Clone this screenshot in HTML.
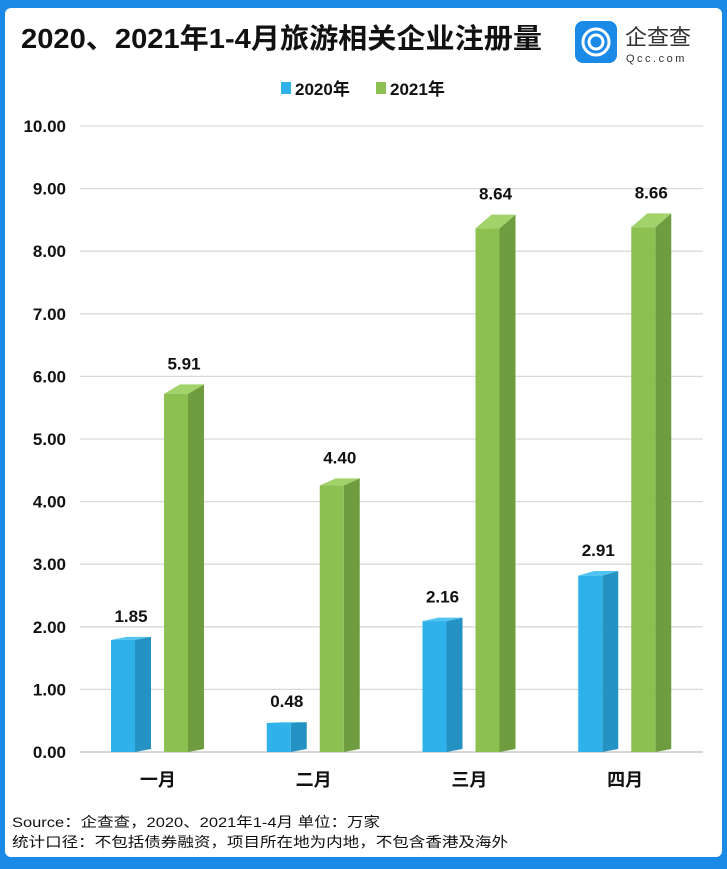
<!DOCTYPE html>
<html><head><meta charset="utf-8">
<style>
body{margin:0;width:727px;height:869px;background:#1a8ae6;overflow:hidden;font-family:"Liberation Sans","Noto Sans CJK SC",sans-serif;}
#card{position:absolute;left:5px;top:8px;width:717px;height:849px;background:#fff;border-radius:6px;}
</style></head><body>
<div id="card"></div>
<svg id="chart" width="727" height="869" style="position:absolute;left:0;top:0">
<text x="21" y="48" font-size="28" font-weight="bold" fill="#111" textLength="521" lengthAdjust="spacingAndGlyphs" font-family="Liberation Sans,Noto Sans CJK SC,sans-serif">2020、2021年1-4月旅游相关企业注册量</text>
<g>
<rect x="575" y="21" width="42" height="42" rx="8" fill="#1a8ae6"/>
<circle cx="596" cy="42" r="13" fill="none" stroke="#fff" stroke-width="3"/>
<circle cx="596" cy="42" r="7" fill="none" stroke="#fff" stroke-width="3"/>
<text x="625" y="45" font-size="22" fill="#333" font-family="Noto Sans CJK SC,sans-serif">企查查</text>
<text x="626" y="62" font-size="11" fill="#333" letter-spacing="2.5" font-family="Liberation Sans,sans-serif">Qcc.com</text>
</g>
<g font-size="17" font-weight="bold" fill="#111" font-family="Liberation Sans,Noto Sans CJK SC,sans-serif">
<rect x="281" y="82" width="10" height="12" fill="#2fb2ea"/>
<text x="295" y="95">2020年</text>
<rect x="376" y="82" width="10" height="12" fill="#8cc152"/>
<text x="390" y="95">2021年</text>
</g>
<g id="grid"></g><g id="bars"></g><g id="labels"></g>
<text x="12" y="827" font-size="14" fill="#111" textLength="368" lengthAdjust="spacingAndGlyphs" font-family="Liberation Sans,Noto Sans CJK SC,sans-serif">Source：企查查，2020、2021年1-4月 单位：万家</text>
<text x="12" y="847" font-size="14" fill="#111" textLength="496" lengthAdjust="spacingAndGlyphs" font-family="Liberation Sans,Noto Sans CJK SC,sans-serif">统计口径：不包括债券融资，项目所在地为内地，不包含香港及海外</text>
</svg>
<script>
const categories=["一月","二月","三月","四月"];
const values2020=[1.85,0.48,2.16,2.91];
const values2021=[5.91,4.40,8.64,8.66];
const yTicks=[0,1,2,3,4,5,6,7,8,9,10];
const NS="http://www.w3.org/2000/svg";
const x0=80,x1=703,band=(x1-x0)/categories.length;
function y(v){return 752-v*62.6;}
function mk(tag,attrs,parent){const e=document.createElementNS(NS,tag);for(const k in attrs)e.setAttribute(k,attrs[k]);parent.appendChild(e);return e;}
const grid=document.getElementById('grid'),bars=document.getElementById('bars'),labels=document.getElementById('labels');
yTicks.forEach(t=>{
 const l=mk('line',{x1:x0,x2:x1,y1:y(t),y2:y(t),stroke:t===0?'#bfbfbf':'#d9d9d9','stroke-width':1.3},grid);
 
 
 const tx=mk('text',{x:66,y:y(t)+6,'text-anchor':'end','font-size':17,'font-weight':'bold',fill:'#111'},grid);
 tx.textContent=t.toFixed(2);
 
 
});
function bar(v,left,front,side,top){
 const w=24,d=16,yb=y(v)+0.4*v,yf=y(v)+2*v,base=y(0);
 const g=mk('g',{},bars);
 
 
 mk('polygon',{points:`${left+w},${yf} ${left+w+d},${yb} ${left+w+d},${base-3} ${left+w},${base}`,fill:side},g);
 mk('polygon',{points:`${left},${yf} ${left+d},${yb} ${left+w+d},${yb} ${left+w},${yf}`,fill:top},g);
 mk('rect',{x:left,y:yf,width:w,height:base-yf,fill:front},g);
 const t=mk('text',{x:left+(w+d)/2,y:yb-15,'text-anchor':'middle','font-size':17,'font-weight':'bold',fill:'#111'},labels);
 t.textContent=v.toFixed(2);
 
 
}
categories.forEach((c,i)=>{
 const bx=x0+i*band;
 bar(values2020[i],bx+31,'#2fb2ea','#2592c4','#4fc3f2');
 bar(values2021[i],bx+84,'#8cc152','#6f9c3e','#a2d26a');
 const t=mk('text',{x:bx+band/2,y:786,'text-anchor':'middle','font-size':18,'font-weight':'bold',fill:'#111'},labels);
 t.textContent=c;
 
 
});
</script>
</body></html>
